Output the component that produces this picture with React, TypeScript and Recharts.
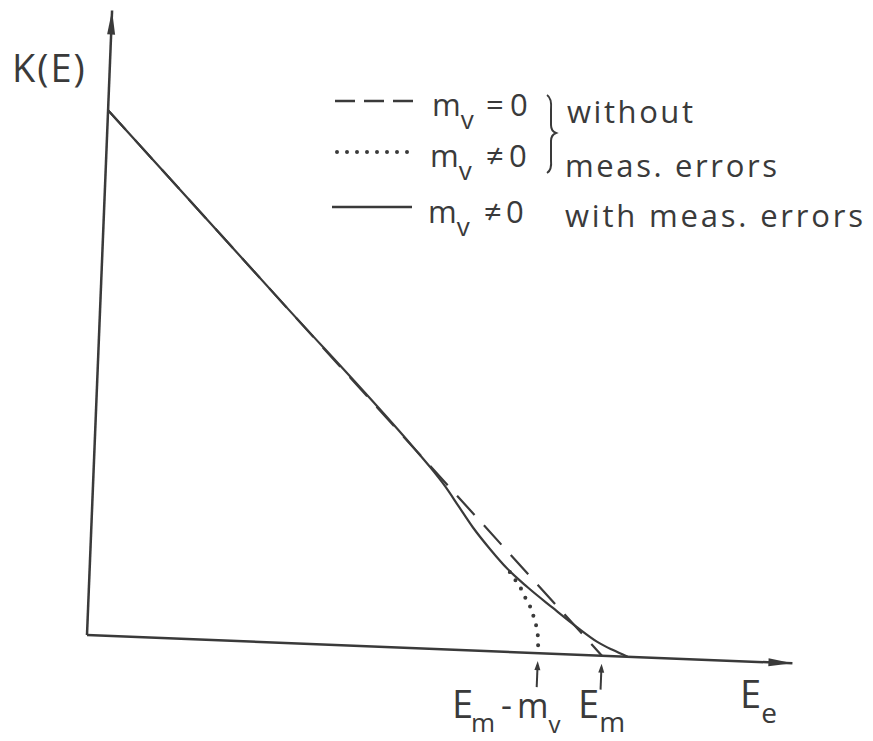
import { LineChart, Line, XAxis, YAxis, ReferenceDot } from "recharts";

const W = 873;
const H = 741;
const INK = "#3a3a3a";
const FONT = "'Open Sans', 'DejaVu Sans', sans-serif";
// the whole plot frame is drawn slightly tilted, pivoting on the axis origin
const TILT = 2.3;
const ORIGIN = { x: 87, y: 635 };

// axis ranges (E in units of the endpoint E_m)
const E_MAX = 1.37;
const K_MAX = 1.19;

// m_v = 0, no measurement errors: straight Kurie line
const idealE = [0, 1.0];
const idealK = [1.0, 0];

// m_v != 0, no measurement errors: drops vertically at E_m - m_v
const massiveE = [0.815, 0.83, 0.843, 0.851, 0.862, 0.866, 0.873, 0.875, 0.876];
const massiveK = [0.152, 0.132, 0.113, 0.096, 0.078, 0.063, 0.04, 0.025, 0];

// m_v != 0 with measurement errors: smeared tail past E_m
const measuredE = [0, 0.35, 0.62, 0.65, 0.683, 0.71, 0.74, 0.775, 0.81, 0.85, 0.9, 0.95, 0.99, 1.02, 1.05];
const measuredK = [1.0, 0.65, 0.38, 0.348, 0.31, 0.274, 0.234, 0.194, 0.158, 0.125, 0.088, 0.052, 0.026, 0.012, 0];

// positions marked by arrows under the E axis
const markerE = [0.876, 1.0];

const zip = (es: number[], ks: number[]) => es.map((E, i) => ({ E, K: ks[i] }));

const ideal = zip(idealE, idealK);
const massive = zip(massiveE, massiveK);
const measured = zip(measuredE, measuredK);

const XArrow = ({ cx, cy }: any) => (
  <polygon points={`${cx},${cy} ${cx - 24},${cy - 4} ${cx - 24},${cy + 4}`} fill={INK} />
);

const YArrow = ({ cx, cy }: any) => (
  <polygon points={`${cx},${cy} ${cx - 4},${cy + 24} ${cx + 4},${cy + 24}`} fill={INK} />
);

const Marker = ({ cx, cy }: any) => (
  <g>
    <line x1={cx} y1={cy + 12} x2={cx} y2={cy + 34} stroke={INK} strokeWidth={2} />
    <polygon points={`${cx},${cy + 8} ${cx - 3},${cy + 17} ${cx + 3},${cy + 17}`} fill={INK} />
  </g>
);

const Sub = ({ children, size = 26, dy = 13, x }: any) => (
  <tspan fontSize={size} dy={dy} x={x}>
    {children}
  </tspan>
);

const Overlay = () => (
  <svg
    width={W}
    height={H}
    style={{ position: "absolute", left: 0, top: 0, pointerEvents: "none" }}
    fontFamily={FONT}
    fill={INK}
  >
    <text x={12} y={82} fontSize={38} letterSpacing={2}>
      K(E)
    </text>

    {/* legend samples */}
    <line x1={335} y1={101} x2={413} y2={101} stroke={INK} strokeWidth={2.5} strokeDasharray="20 9" />
    <line x1={337} y1={152} x2={408} y2={152} stroke={INK} strokeWidth={4} strokeDasharray="0 10" strokeLinecap="round" />
    <line x1={332} y1={207} x2={412} y2={207} stroke={INK} strokeWidth={2.5} />

    <text x={432} y={116} fontSize={31}>
      m<Sub>v</Sub>
      <tspan x={486} dy={-13}>=</tspan>
      <tspan x={510}>0</tspan>
    </text>
    <text x={430} y={167} fontSize={31}>
      m<Sub>v</Sub>
      <tspan x={486} dy={-13}>≠</tspan>
      <tspan x={509}>0</tspan>
    </text>
    <text x={428} y={223} fontSize={31}>
      m<Sub>v</Sub>
      <tspan x={484} dy={-13}>≠</tspan>
      <tspan x={506}>0</tspan>
    </text>

    <path
      d="M547,95 Q552,98 551,110 L551,125 Q551,131 556,133 Q551,135 551,141 L551,160 Q552,170 547,173"
      fill="none"
      stroke={INK}
      strokeWidth={2}
    />

    <text x={567} y={123} fontSize={31} textLength={126} lengthAdjust="spacing">
      without
    </text>
    <text x={565} y={177} fontSize={31} textLength={212} lengthAdjust="spacing">
      meas. errors
    </text>
    <text x={565} y={227} fontSize={31} textLength={298} lengthAdjust="spacing">
      with meas. errors
    </text>

    {/* axis labels */}
    <text x={452} y={718} fontSize={38}>
      E<Sub size={26} dy={14} x={471}>m</Sub>
      <tspan x={501} dy={-15} fontSize={34}>-</tspan>
      <tspan x={517} dy={1} fontSize={34}>m</tspan>
      <Sub size={24} dy={15}>v</Sub>
    </text>
    <text x={578} y={718} fontSize={38}>
      E<Sub size={28} dy={14}>m</Sub>
    </text>
    <text x={740} y={708} fontSize={38}>
      E<Sub size={28} dy={15}>e</Sub>
    </text>
  </svg>
);

export default function App() {
  return (
    <div style={{ position: "absolute", left: 0, top: 0, width: W, height: H, background: "#fff" }}>
      <div style={{ transform: `rotate(${TILT}deg)`, transformOrigin: `${ORIGIN.x}px ${ORIGIN.y}px` }}>
        <LineChart width={W} height={H} margin={{ top: 10, right: 80, bottom: 105, left: 86 }}>
          <XAxis
            type="number"
            dataKey="E"
            domain={[0, E_MAX]}
            ticks={[]}
            tick={false}
            tickLine={false}
            height={1}
            axisLine={{ stroke: INK, strokeWidth: 2.5 }}
          />
          <YAxis
            type="number"
            dataKey="K"
            domain={[0, K_MAX]}
            ticks={[]}
            tick={false}
            tickLine={false}
            width={1}
            axisLine={{ stroke: INK, strokeWidth: 2.5 }}
          />
          <Line
            data={ideal}
            dataKey="K"
            type="linear"
            stroke={INK}
            strokeWidth={2.2}
            strokeDasharray="26 14"
            dot={false}
            isAnimationActive={false}
          />
          <Line
            data={massive}
            dataKey="K"
            type="monotone"
            stroke={INK}
            strokeWidth={4}
            strokeDasharray="0 10"
            strokeLinecap="round"
            dot={false}
            isAnimationActive={false}
          />
          <Line
            data={measured}
            dataKey="K"
            type="monotone"
            stroke={INK}
            strokeWidth={2.2}
            dot={false}
            isAnimationActive={false}
          />
          <ReferenceDot x={E_MAX} y={0} r={0} shape={XArrow} />
          <ReferenceDot x={0} y={K_MAX} r={0} shape={YArrow} />
          {markerE.map((e) => (
            <ReferenceDot key={e} x={e} y={0} r={0} shape={Marker} />
          ))}
        </LineChart>
      </div>
      <Overlay />
    </div>
  );
}
